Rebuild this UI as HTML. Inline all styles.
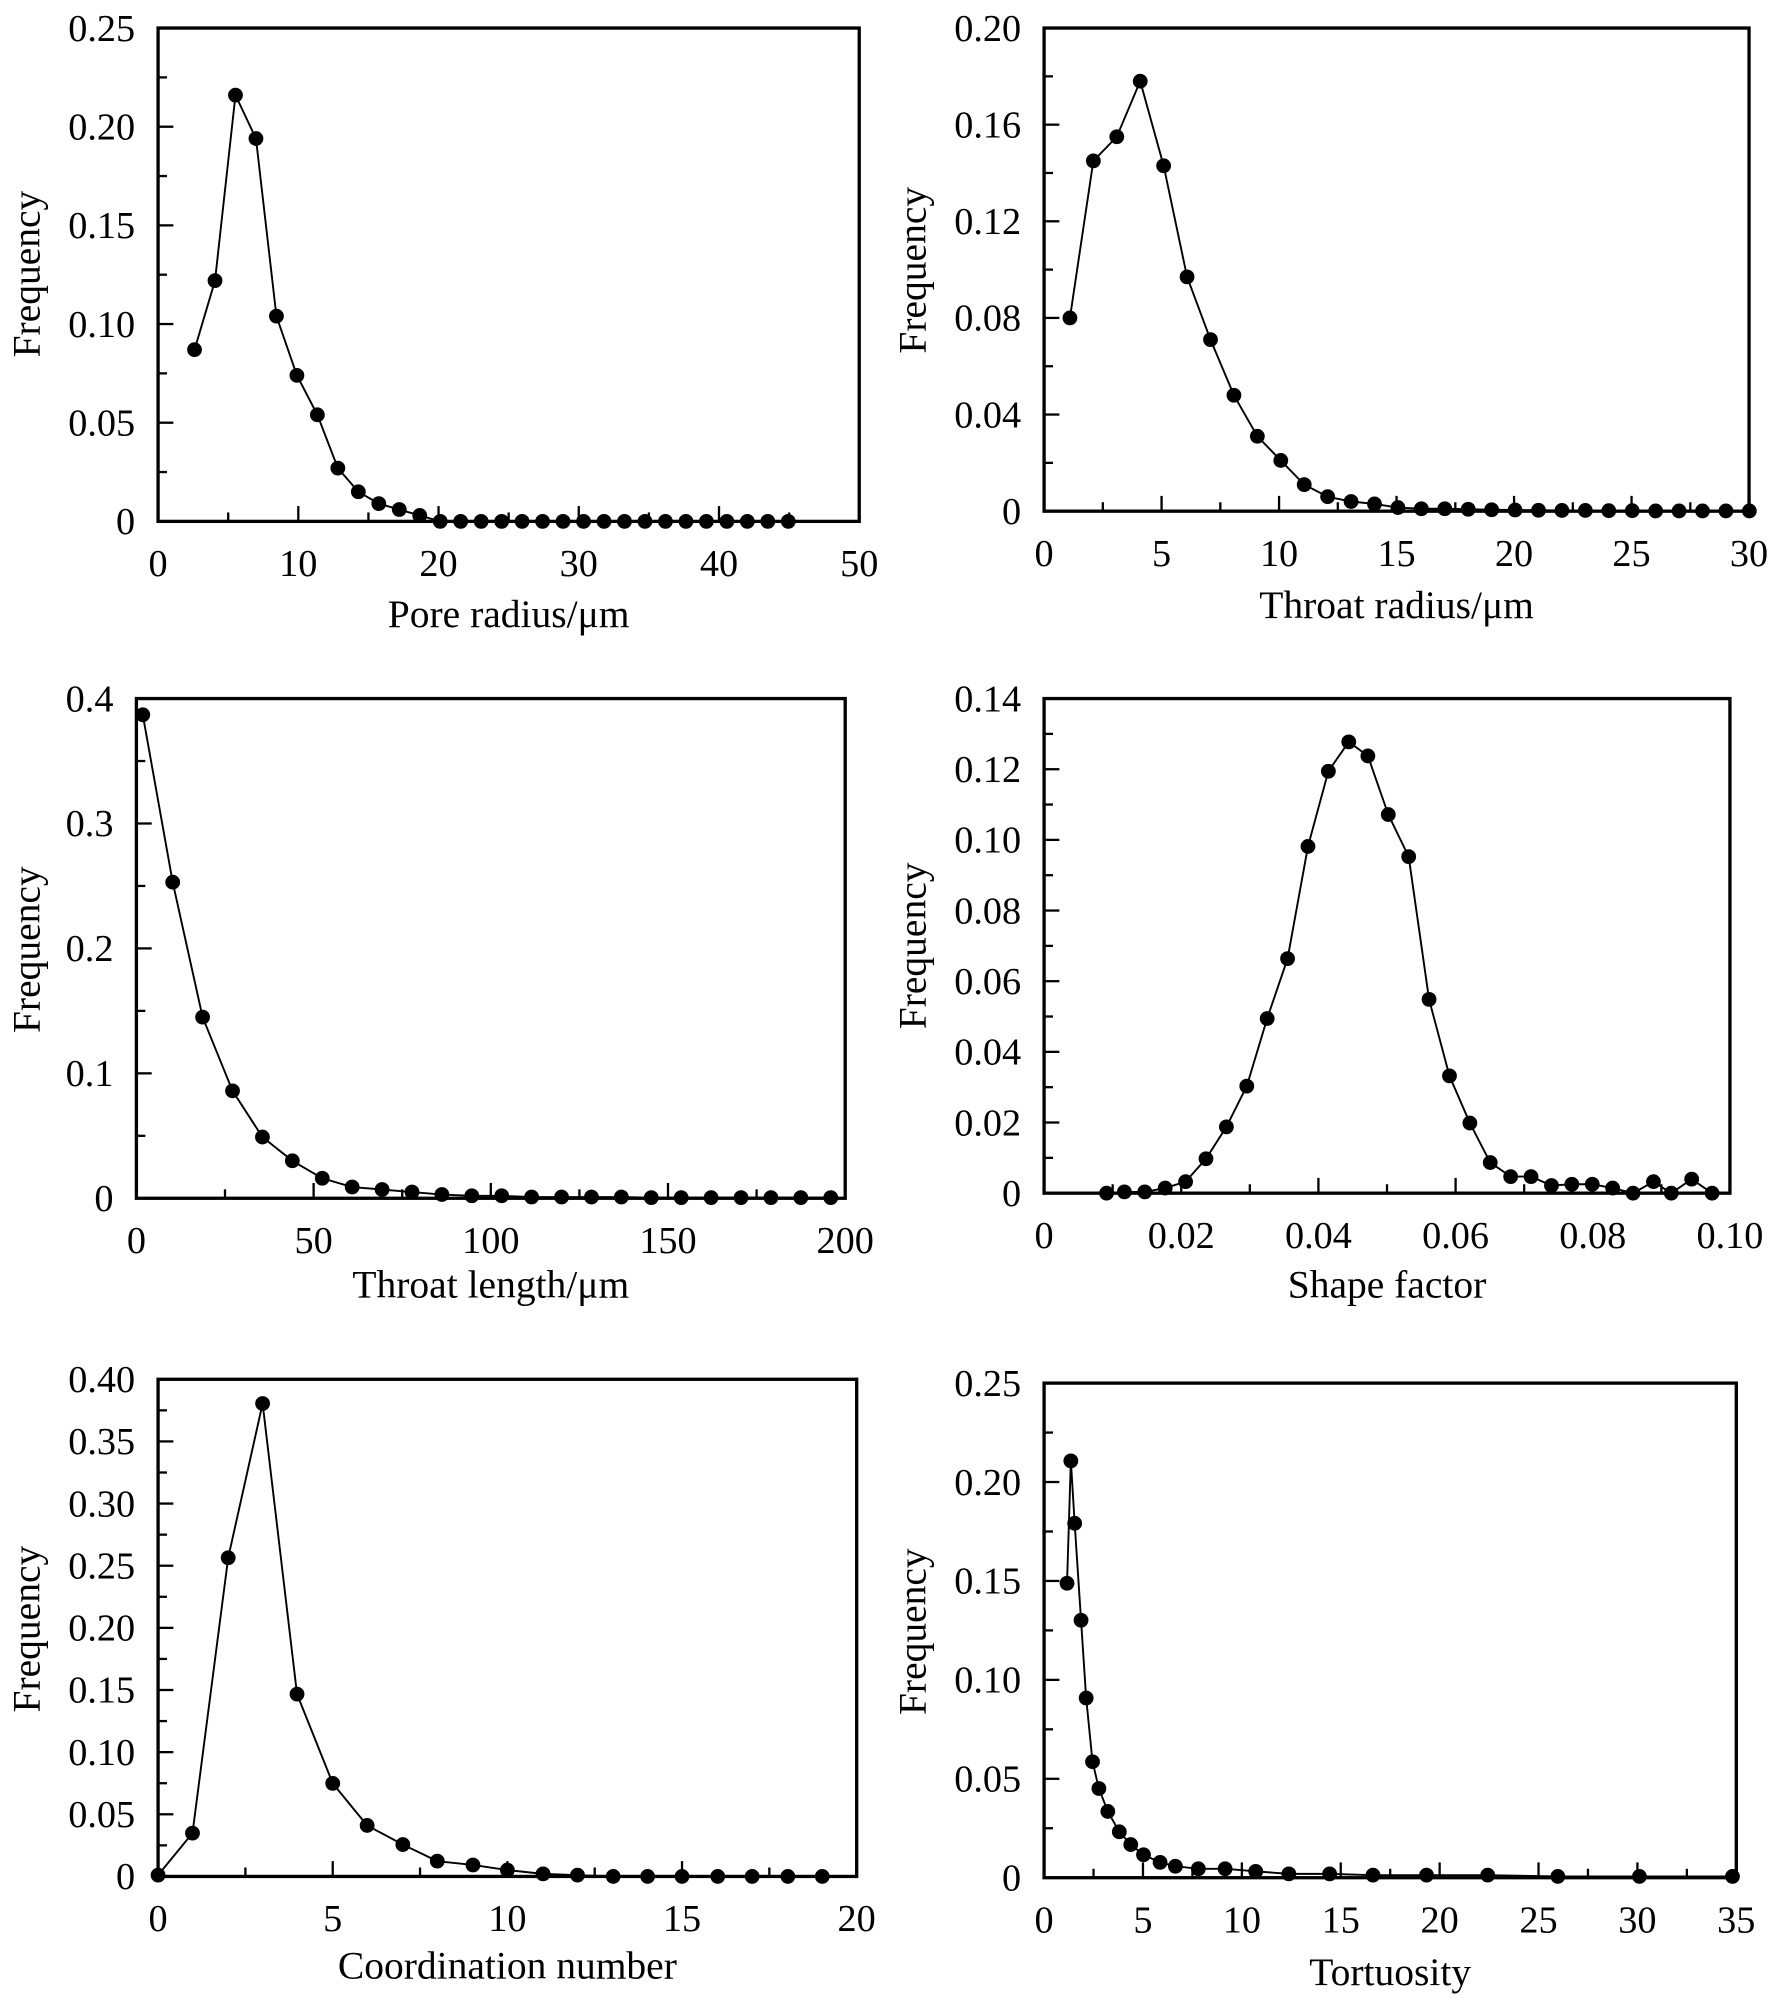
<!DOCTYPE html>
<html><head><meta charset="utf-8"><style>
html,body{margin:0;padding:0;background:#fff;}
svg{display:block;}
text{font-family:"Liberation Serif",serif;fill:#000;}
</style></head><body>
<svg id="s" width="1772" height="2002" viewBox="0 0 1390 1570.5" preserveAspectRatio="none" xmlns="http://www.w3.org/2000/svg"></svg>
<script>
const svg=document.getElementById('s');let h='';
function panel(p){
  const {L,R,T,B,xmax,ymax,xt,xm,yt,ym,xlab,xl,yl,ylx,ylabx,ylaby,xlaby,pts,px}=p;
  const X=v=>L+(R-L)*v/xmax, Y=v=>B-(B-T)*v/ymax;
  h+=`<rect x="${L}" y="${T}" width="${R-L}" height="${B-T}" fill="none" stroke="#000" stroke-width="2.6"/>`;
  for(let v=0;v<=xmax+1e-9;v+=xm){const x=X(v);const maj=Math.abs(v/xt-Math.round(v/xt))<1e-6;
    h+=`<line x1="${x}" y1="${B}" x2="${x}" y2="${B-(maj?12:7)}" stroke="#000" stroke-width="1.8"/>`;}
  xl.forEach(([v,s])=>{h+=`<text x="${X(v)}" y="${B+43}" font-size="30" text-anchor="middle">${s}</text>`;});
  for(let v=0;v<=ymax+1e-9;v+=ym){const y=Y(v);const maj=Math.abs(v/yt-Math.round(v/yt))<1e-6;
    h+=`<line x1="${L}" y1="${y}" x2="${L+(maj?12:7)}" y2="${y}" stroke="#000" stroke-width="1.8"/>`;}
  yl.forEach(([v,s])=>{h+=`<text x="${ylx}" y="${Y(v)+10}" font-size="30" text-anchor="end">${s}</text>`;});
  h+=`<text x="${(L+R)/2}" y="${xlaby}" font-size="31" text-anchor="middle">${xlab}</text>`;
  h+=`<text transform="translate(${ylabx},${ylaby}) rotate(-90)" x="0" y="0" font-size="31" text-anchor="middle">Frequency</text>`;
  const P=px?pts:pts.map(([a,b])=>[X(a),Y(b)]);
  h+=`<polyline points="${P.map(q=>q.join(',')).join(' ')}" fill="none" stroke="#000" stroke-width="1.5"/>`;
  P.forEach(q=>{h+=`<circle cx="${q[0]}" cy="${q[1]}" r="5.8" fill="#000"/>`;});
}
let v1=[0.087,0.122,0.216,0.194,0.104,0.074,0.054,0.027,0.015,0.009,0.006,0.003];
let p1=[];for(let i=0;i<=29;i++)p1.push([2.6+1.46*i,i<v1.length?v1[i]:0]);
panel({L:124,R:674,T:22,B:409,xmax:50,ymax:0.25,xt:10,xm:5,yt:0.05,ym:0.025,xlab:"Pore radius/μm",
 xl:[[0,"0"],[10,"10"],[20,"20"],[30,"30"],[40,"40"],[50,"50"]],
 yl:[[0,"0"],[0.05,"0.05"],[0.1,"0.10"],[0.15,"0.15"],[0.2,"0.20"],[0.25,"0.25"]],ylx:106,ylabx:31,ylaby:215,xlaby:492,pts:p1});
let v2=[0.080,0.145,0.155,0.178,0.143,0.097,0.071,0.048,0.031,0.021,0.011,0.006,0.004,0.003,0.0015,0.001,0.001,0.0008,0.0006,0.0005,0.0004,0.0003,0.0003,0.0002,0.0002,0.0001,0.0001,0.0001,0.0001,0.0001];
let p2=v2.map((v,i)=>[1.1+0.997*i,v]);
panel({L:819,R:1372,T:22,B:401,xmax:30,ymax:0.20,xt:5,xm:2.5,yt:0.04,ym:0.02,xlab:"Throat radius/μm",
 xl:[[0,"0"],[5,"5"],[10,"10"],[15,"15"],[20,"20"],[25,"25"],[30,"30"]],
 yl:[[0,"0"],[0.04,"0.04"],[0.08,"0.08"],[0.12,"0.12"],[0.16,"0.16"],[0.2,"0.20"]],ylx:801,ylabx:726,ylaby:212,xlaby:485,pts:p2});
let v3=[0.387,0.253,0.145,0.086,0.049,0.030,0.016,0.009,0.007,0.005,0.003,0.002,0.002,0.001,0.001,0.001,0.001,0.0005,0.0005,0.0005,0.0005,0.0005,0.0005,0.0005];
let p3=v3.map((v,i)=>[1.8+8.44*i,v]);
panel({L:107,R:663,T:548,B:940,xmax:200,ymax:0.4,xt:50,xm:25,yt:0.1,ym:0.05,xlab:"Throat length/μm",
 xl:[[0,"0"],[50,"50"],[100,"100"],[150,"150"],[200,"200"]],
 yl:[[0,"0"],[0.1,"0.1"],[0.2,"0.2"],[0.3,"0.3"],[0.4,"0.4"]],ylx:89,ylabx:31,ylaby:745,xlaby:1018,pts:p3});
let p4=[[868,936],[882,935],[898,935],[914,932],[930,927],[946,909],[962,884],[978,852],[994,799],[1010,752],[1026,664],[1042,605],[1058,582],[1073,593],[1089,639],[1105,672],[1121,784],[1137,844],[1153,881],[1169,912],[1185,923],[1201,923],[1217,930],[1233,929],[1249,929],[1265,932],[1281,936],[1297,927],[1311,936],[1327,925],[1343,936]];
panel({L:819,R:1357,T:548,B:936,xmax:0.10,ymax:0.14,xt:0.02,xm:0.01,yt:0.02,ym:0.01,xlab:"Shape factor",
 xl:[[0,"0"],[0.02,"0.02"],[0.04,"0.04"],[0.06,"0.06"],[0.08,"0.08"],[0.1,"0.10"]],
 yl:[[0,"0"],[0.02,"0.02"],[0.04,"0.04"],[0.06,"0.06"],[0.08,"0.08"],[0.1,"0.10"],[0.12,"0.12"],[0.14,"0.14"]],ylx:801,ylabx:726,ylaby:742,xlaby:1018,pts:p4,px:true});
let p5=[[124,1471],[151,1438],[179,1222],[206,1101],[233,1329],[261,1399],[288,1432],[316,1447],[343,1460],[371,1463],[398,1467],[426,1470],[453,1471],[481,1472],[508,1472],[535,1472],[563,1472],[590,1472],[618,1472],[645,1472]];
panel({L:124,R:672,T:1082,B:1472,xmax:20,ymax:0.40,xt:5,xm:2.5,yt:0.05,ym:0.025,xlab:"Coordination number",
 xl:[[0,"0"],[5,"5"],[10,"10"],[15,"15"],[20,"20"]],
 yl:[[0,"0"],[0.05,"0.05"],[0.1,"0.10"],[0.15,"0.15"],[0.2,"0.20"],[0.25,"0.25"],[0.3,"0.30"],[0.35,"0.35"],[0.4,"0.40"]],ylx:106,ylabx:31,ylaby:1278,xlaby:1552,pts:p5,px:true});
let p6=[[837,1242],[840,1146],[843,1195],[848,1271],[852,1332],[857,1382],[862,1403],[869,1421],[878,1437],[887,1447],[897,1455],[910,1461],[922,1464],[940,1466],[961,1466],[985,1468],[1011,1470],[1043,1470],[1077,1471],[1119,1471],[1167,1471],[1222,1472],[1286,1472],[1359,1472]];
panel({L:819,R:1362,T:1085,B:1473,xmax:35,ymax:0.25,xt:5,xm:2.5,yt:0.05,ym:0.025,xlab:"Tortuosity",
 xl:[[0,"0"],[5,"5"],[10,"10"],[15,"15"],[20,"20"],[25,"25"],[30,"30"],[35,"35"]],
 yl:[[0,"0"],[0.05,"0.05"],[0.1,"0.10"],[0.15,"0.15"],[0.2,"0.20"],[0.25,"0.25"]],ylx:801,ylabx:726,ylaby:1280,xlaby:1557,pts:p6,px:true});
svg.innerHTML=h;
</script>
</body></html>
